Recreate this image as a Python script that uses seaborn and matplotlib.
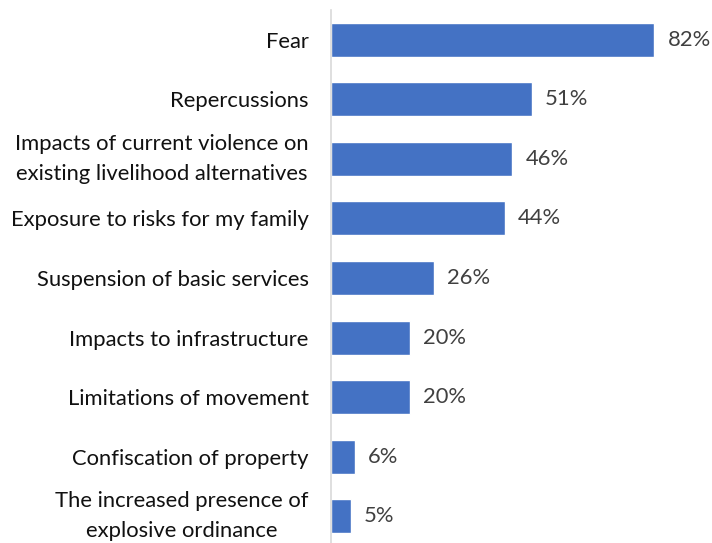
import matplotlib
matplotlib.use("Agg")
import matplotlib.pyplot as plt
import matplotlib.transforms as mtransforms
import seaborn as sns
import pandas as pd

categories = [
    "Fear",
    "Repercussions",
    "Impacts of current violence on\nexisting livelihood alternatives",
    "Exposure to risks for my family",
    "Suspension of basic services",
    "Impacts to infrastructure",
    "Limitations of movement",
    "Confiscation of property",
    "The increased presence of\nexplosive ordinance",
]
shares = [82, 51, 46, 44, 26, 20, 20, 6, 5]

df = pd.DataFrame({"reason": categories, "share": shares})

sns.set_theme(style="white")
plt.rcParams["font.family"] = ["Lato", "DejaVu Sans"]

fig = plt.figure(figsize=(7.12, 5.43), dpi=100)
ax = fig.add_axes([331 / 712, -3 / 543, 355 / 712, 536 / 543])

sns.barplot(data=df, x="share", y="reason", color="#4472C4", width=0.57,
            saturation=1, ax=ax)

# value labels to the right of each bar
for i, v in enumerate(shares):
    ax.text(v + 3.3, i, f"{v}%", va="center", ha="left",
            fontsize=15.8, color="#404040")

# category labels, right-aligned left of the axis
label_trans = ax.get_yaxis_transform() + mtransforms.ScaledTranslation(
    -16 / 72, 0, fig.dpi_scale_trans)
for i, name in enumerate(categories):
    va = "center" if "\n" in name else "center_baseline"
    ax.text(0, i, name, transform=label_trans, ha="right", va=va,
            multialignment="center", linespacing=1.6,
            fontsize=15.8, color="#111111")

ax.set_xlim(0, 90)
ax.set_ylim(8.5, -0.5)
ax.set_xlabel("")
ax.set_ylabel("")
ax.set_xticks([])
ax.set_yticks(range(len(categories)))
ax.set_yticklabels([])
ax.tick_params(axis="y", length=0)
for side in ["top", "right", "bottom"]:
    ax.spines[side].set_visible(False)
ax.spines["left"].set_color("#d9d9d9")
ax.spines["left"].set_linewidth(1.2)

fig.savefig("out.png", dpi=100)
